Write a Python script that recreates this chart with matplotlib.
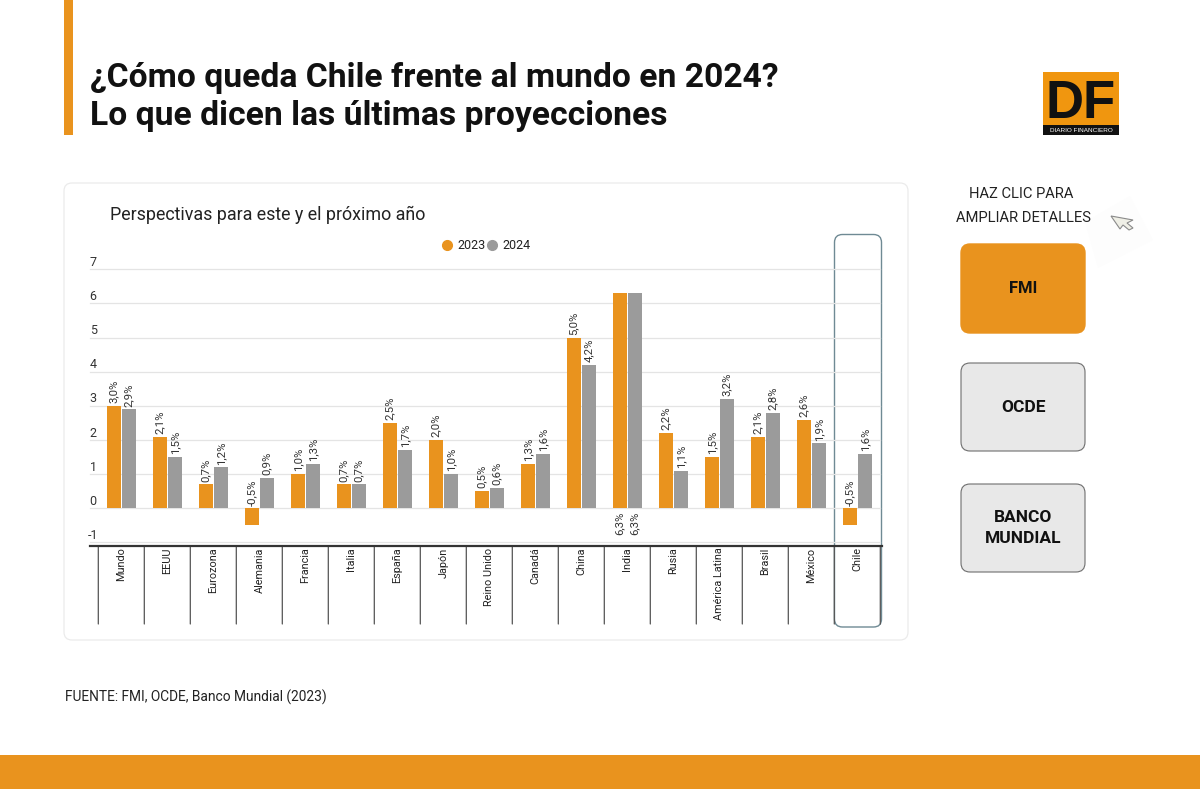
import matplotlib
matplotlib.use("Agg")
import matplotlib.pyplot as plt
from matplotlib.lines import Line2D
from matplotlib.patches import FancyBboxPatch, Rectangle, Polygon

plt.rcParams['font.family'] = ['Roboto', 'DejaVu Sans']

paises = ["Mundo", "EEUU", "Eurozona", "Alemania", "Francia", "Italia", "España", "Japón",
          "Reino Unido", "Canadá", "China", "India", "Rusia", "América Latina", "Brasil",
          "México", "Chile"]
v2023 = [3.0, 2.1, 0.7, -0.5, 1.0, 0.7, 2.5, 2.0, 0.5, 1.3, 5.0, 6.3, 2.2, 1.5, 2.1, 2.6, -0.5]
v2024 = [2.9, 1.5, 1.2, 0.9, 1.3, 0.7, 1.7, 1.0, 0.6, 1.6, 4.2, 6.3, 1.1, 3.2, 2.8, 1.9, 1.6]
y_ticks = [-1, 0, 1, 2, 3, 4, 5, 6, 7]
labels_abajo = ["India"]

NARANJA = "#E9931E"
GRIS = "#9B9B9B"
W, H = 1200, 789

fig = plt.figure(figsize=(W / 100, H / 100), dpi=100, facecolor="white")

# capa de fondo en pixeles
bg = fig.add_axes([0, 0, 1, 1])
bg.set_xlim(0, W)
bg.set_ylim(H, 0)
bg.axis("off")


def caja(x0, y0, x1, y1, r, fc, ec, lw=1.0, z=1):
    bg.add_patch(FancyBboxPatch((x0 + r, y0 + r), x1 - x0 - 2 * r, y1 - y0 - 2 * r,
                                boxstyle=f"round,pad={r},rounding_size={r}",
                                fc=fc, ec=ec, lw=lw, zorder=z))


bg.add_patch(Rectangle((64, 0), 9, 135, fc=NARANJA, ec="none"))
bg.add_patch(Rectangle((0, 755), W, 34, fc=NARANJA, ec="none"))
bg.text(90, 78, "¿Cómo queda Chile frente al mundo en 2024?", fontsize=24.2, fontweight="bold",
        color="#111111", va="center", ha="left")
bg.text(90, 116, "Lo que dicen las últimas proyecciones", fontsize=24.2, fontweight="bold",
        color="#111111", va="center", ha="left")

# logo
bg.add_patch(Rectangle((1043, 72), 76, 63, fc="#F0960F", ec="none"))
bg.add_patch(Rectangle((1043, 125), 76, 10, fc="#111111", ec="none"))
bg.text(1081, 118, "DF", fontsize=38, fontweight="bold", color="#111111",
        family="Liberation Sans", ha="center", va="baseline")
bg.text(1081, 130, "DIARIO FINANCIERO", fontsize=4.6, color="white", family="Liberation Sans",
        ha="center", va="center")

# tarjeta del grafico
caja(64, 183, 908, 640, 8, "white", "#EBEBEB", 0.9)
bg.text(110, 215, "Perspectivas para este y el próximo año", fontsize=12.9, color="#222222",
        va="center", ha="left")
bg.text(65, 697, "FUENTE: FMI, OCDE, Banco Mundial (2023)", fontsize=9.9, color="#222222",
        va="center", ha="left")

# botones
bg.text(1021, 194, "HAZ CLIC PARA", fontsize=10.6, color="#222222", ha="center", va="center")
bg.text(1023, 218, "AMPLIAR DETALLES", fontsize=10.6, color="#222222", ha="center", va="center")
caja(961, 244, 1085, 333, 9, NARANJA, NARANJA)
caja(961, 363, 1085, 451, 9, "#E8E8E8", "#6E6E6E", 0.8)
caja(961, 484, 1085, 572, 9, "#E8E8E8", "#6E6E6E", 0.8)
bg.text(1023, 288, "FMI", fontsize=12, fontweight="bold", color="#111111", ha="center", va="center")
bg.text(1023, 407, "OCDE", fontsize=12.5, fontweight="bold", color="#111111", ha="center", va="center")
bg.text(1023, 528, "BANCO\nMUNDIAL", fontsize=12.5, fontweight="bold", color="#111111",
        ha="center", va="center", linespacing=1.55)

# cursor
bg.add_patch(Polygon([(1085, 222), (1130, 196), (1153, 240), (1098, 268)], closed=True,
                     fc="#FDFDFD", ec="none"))
bg.add_patch(Polygon([(1111, 216), (1133, 220), (1127, 223), (1133, 228), (1129, 230), (1123, 225), (1120, 229)],
                     closed=True, fc="#EFEFE6", ec="#8A8A8A", lw=0.8))

# ejes del grafico
left, right, top, bottom = 98.3, 880.3, 269.3, 546.0
ax = fig.add_axes([left / W, 1 - bottom / H, (right - left) / W, (bottom - top) / H])
ax.patch.set_alpha(0)
ax.set_xlim(0, len(paises))
ax.set_ylim(-1.104, 7)
for s in ax.spines.values():
    s.set_visible(False)
ax.set_xticks([])
ax.set_yticks([])

for y in y_ticks:
    ax.plot([-0.18, len(paises)], [y, y], color="#E4E4E4", lw=0.9, zorder=1, clip_on=False)
    ax.annotate(str(y), (-0.11, y), xytext=(0, 5), textcoords="offset points", fontsize=9,
                color="#333333", ha="center", va="center", annotation_clip=False)

ancho = 14 / 46
sep = 15 / 46
for i, pais in enumerate(paises):
    xc = i + 0.5
    for x, v, col in ((xc - sep / 2, v2023[i], NARANJA), (xc + sep / 2, v2024[i], GRIS)):
        ax.bar(x, v, width=ancho, color=col, zorder=2)
        txt = f"{v:.1f}%".replace(".", ",")
        if pais in labels_abajo:
            ax.annotate(txt, (x, 0), xytext=(0, -2.5), textcoords="offset points", rotation=90,
                        ha="center", va="top", fontsize=8.2, color="#333333")
        else:
            ax.annotate(txt, (x, max(v, 0)), xytext=(0, 2), textcoords="offset points", rotation=90,
                        ha="center", va="bottom", fontsize=8.2, color="#333333")
    ax.annotate(pais, (xc, -1.104), xytext=(0, -1), textcoords="offset points", rotation=90,
                ha="center", va="top", fontsize=7.8, color="#222222", annotation_clip=False)

# separadores de categorias
for i in range(len(paises) + 1):
    ax.annotate("", (i, -1.104), xytext=(i, -1.104 - 78 / 34.14), annotation_clip=False,
                arrowprops=dict(arrowstyle="-", color="#555555", lw=0.9, shrinkA=0, shrinkB=0))
ax.plot([-0.18, len(paises) + 0.03], [-1.104, -1.104], color="#333333", lw=1.6, clip_on=False, zorder=3)

# caja resaltada de Chile
caja(834.5, 234.5, 881.5, 627, 8, "none", "#6F8A94", 1.0, z=5)

handles = [Line2D([], [], marker="o", ls="", color=NARANJA, ms=7, label="2023"),
           Line2D([], [], marker="o", ls="", color=GRIS, ms=7, label="2024")]
fig.legend(handles=handles, ncol=2, frameon=False, loc="center", bbox_to_anchor=(485.5 / W, 1 - 245.5 / H),
           fontsize=9, handlelength=1.0, handletextpad=0.3, columnspacing=0.05, labelcolor="#222222")

fig.savefig("out.png", dpi=100)
